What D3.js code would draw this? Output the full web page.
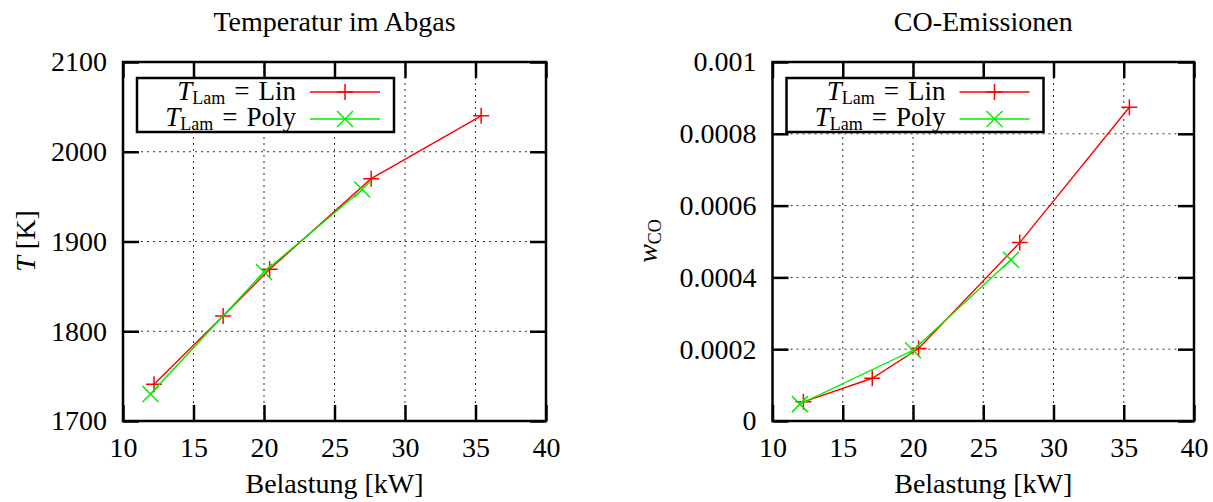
<!DOCTYPE html>
<html>
<head>
<meta charset="utf-8">
<script src="https://cdn.jsdelivr.net/npm/d3@7"></script>
<style>
  body { margin: 0; background: #fff; }
  text { font-family: "Liberation Serif", "Times New Roman", serif; fill: #000; }
</style>
</head>
<body>
<script>
// data
var loadLin  = [12.2, 17.1, 20.4, 27.6, 35.4];
var loadPoly = [11.95, 20.0, 26.97];
var tempLin  = [1741, 1817, 1869, 1970, 2040];
var tempPoly = [1730, 1866, 1958];
var coLin    = [0.0000535, 0.000119, 0.000202, 0.000497, 0.000874];
var coPoly   = [0.000047, 0.000197, 0.000449];

var xTicks    = [10, 15, 20, 25, 30, 35, 40];
var tempTicks = [1700, 1800, 1900, 2000, 2100];
var coTicks   = [0, 0.0002, 0.0004, 0.0006, 0.0008, 0.001];
var coLabels  = ["0", "0.0002", "0.0004", "0.0006", "0.0008", "0.001"];

var width = 1213,
    height = 502,
    fs = 28;

var svg = d3.select("body").append("svg")
    .attr("width", width)
    .attr("height", height);

function panel(opt) {
  var x = d3.scaleLinear().domain([10, 40]).range([opt.left, opt.right]);
  var y = d3.scaleLinear().domain(opt.yDomain).range([421, 62]);
  var g = svg.append("g");

  // grid
  g.append("g").selectAll("line")
    .data(xTicks.slice(1, -1))
    .enter().append("line")
    .attr("x1", function(d){ return x(d); }).attr("x2", function(d){ return x(d); })
    .attr("y1", y.range()[0]).attr("y2", y.range()[1])
    .attr("stroke", "#333").attr("stroke-width", 1).attr("stroke-dasharray", "2,4");
  g.append("g").selectAll("line")
    .data(opt.yTicks.slice(1, -1))
    .enter().append("line")
    .attr("y1", function(d){ return y(d); }).attr("y2", function(d){ return y(d); })
    .attr("x1", opt.left).attr("x2", opt.right)
    .attr("stroke", "#333").attr("stroke-width", 1).attr("stroke-dasharray", "2,4");

  // axes (ticks inward, mirrored)
  var bottom = g.append("g").attr("transform", "translate(0,421)")
    .call(d3.axisBottom(x).tickValues(xTicks).tickSizeInner(-16).tickSizeOuter(0).tickPadding(16));
  var top = g.append("g").attr("transform", "translate(0,62)")
    .call(d3.axisTop(x).tickValues(xTicks).tickSizeInner(-16).tickSizeOuter(0).tickFormat(""));
  var left = g.append("g").attr("transform", "translate(" + opt.left + ",0)")
    .call(d3.axisLeft(y).tickValues(opt.yTicks).tickSizeInner(-16).tickSizeOuter(0).tickPadding(16)
      .tickFormat(function(d, i){ return opt.yLabels[i]; }));
  var right = g.append("g").attr("transform", "translate(" + opt.right + ",0)")
    .call(d3.axisRight(y).tickValues(opt.yTicks).tickSizeInner(-16).tickSizeOuter(0).tickFormat(""));

  [bottom, top, left, right].forEach(function(a) {
    a.attr("font-family", null);
    a.select(".domain").remove();
    a.selectAll("line").attr("stroke", "#000").attr("stroke-width", 2.5);
    a.selectAll("text").attr("font-size", fs);
  });

  g.append("rect")
    .attr("x", opt.left).attr("y", 62)
    .attr("width", opt.right - opt.left).attr("height", 421 - 62)
    .attr("fill", "none").attr("stroke", "#000").attr("stroke-width", 2.5);

  // title and axis labels
  g.append("text")
    .attr("x", (opt.left + opt.right) / 2).attr("y", 31)
    .attr("text-anchor", "middle").attr("font-size", fs)
    .text(opt.title);
  g.append("text")
    .attr("x", (opt.left + opt.right) / 2).attr("y", 493)
    .attr("text-anchor", "middle").attr("font-size", fs)
    .text("Belastung [kW]");

  var yl = g.append("text")
    .attr("transform", "translate(" + opt.yLabelX + ",241) rotate(-90)")
    .attr("text-anchor", "middle").attr("font-size", fs);
  opt.yLabel(yl);

  // series
  var series = [
    {xs: loadLin, ys: opt.lin, color: "#ff0000", marker: "plus"},
    {xs: loadPoly, ys: opt.poly, color: "#00ee00", marker: "cross"}
  ];
  var line = d3.line().x(function(d){ return x(d[0]); }).y(function(d){ return y(d[1]); });

  series.forEach(function(s) {
    var pts = s.xs.map(function(v, i){ return [v, s.ys[i]]; });
    g.append("path")
      .attr("d", line(pts))
      .attr("fill", "none").attr("stroke", s.color).attr("stroke-width", 1.4);
    g.append("g").selectAll("path")
      .data(pts)
      .enter().append("path")
      .attr("d", function(d){ return marker(s.marker, x(d[0]), y(d[1])); })
      .attr("fill", "none").attr("stroke", s.color).attr("stroke-width", 1.5);
  });

  // legend
  var lx = opt.left + 14, ly = 78;
  var leg = g.append("g");
  leg.append("rect")
    .attr("x", lx).attr("y", ly).attr("width", 257).attr("height", 54)
    .attr("fill", "#fff").attr("stroke", "#000").attr("stroke-width", 2.5);
  var names = ["Lin", "Poly"];
  series.forEach(function(s, i) {
    var t = leg.append("text")
      .attr("x", lx + 159).attr("y", ly + 22 + i * 26)
      .attr("text-anchor", "end").attr("font-size", 27);
    t.append("tspan").attr("font-style", "italic").text("T");
    t.append("tspan").attr("font-size", 18).attr("dy", 4).text("Lam");
    t.append("tspan").attr("dy", -4).attr("dx", 9).text("=");
    t.append("tspan").attr("dx", 9).text(names[i]);
    leg.append("line")
      .attr("x1", lx + 173).attr("x2", lx + 243)
      .attr("y1", ly + 14 + i * 27).attr("y2", ly + 14 + i * 27)
      .attr("stroke", s.color).attr("stroke-width", 1.4);
    leg.append("path")
      .attr("d", marker(s.marker, lx + 208, ly + 14 + i * 27))
      .attr("fill", "none").attr("stroke", s.color).attr("stroke-width", 1.5);
  });
}

function marker(type, cx, cy) {
  var r = 8;
  if (type === "plus") {
    return "M" + (cx - r) + "," + cy + "H" + (cx + r) + "M" + cx + "," + (cy - r) + "V" + (cy + r);
  }
  return "M" + (cx - r) + "," + (cy - r) + "L" + (cx + r) + "," + (cy + r) +
         "M" + (cx - r) + "," + (cy + r) + "L" + (cx + r) + "," + (cy - r);
}

panel({
  left: 123, right: 546,
  yDomain: [1700, 2100], yTicks: tempTicks,
  yLabels: tempTicks.map(String),
  lin: tempLin, poly: tempPoly,
  title: "Temperatur im Abgas",
  yLabelX: 35,
  yLabel: function(t) {
    t.append("tspan").attr("font-style", "italic").text("T");
    t.append("tspan").text(" [K]");
  }
});

panel({
  left: 772.5, right: 1194,
  yDomain: [0, 0.001], yTicks: coTicks,
  yLabels: coLabels,
  lin: coLin, poly: coPoly,
  title: "CO-Emissionen",
  yLabelX: 657,
  yLabel: function(t) {
    t.append("tspan").attr("font-style", "italic").text("w");
    t.append("tspan").attr("font-size", 18).attr("dy", 4).text("CO");
  }
});
</script>
</body>
</html>
